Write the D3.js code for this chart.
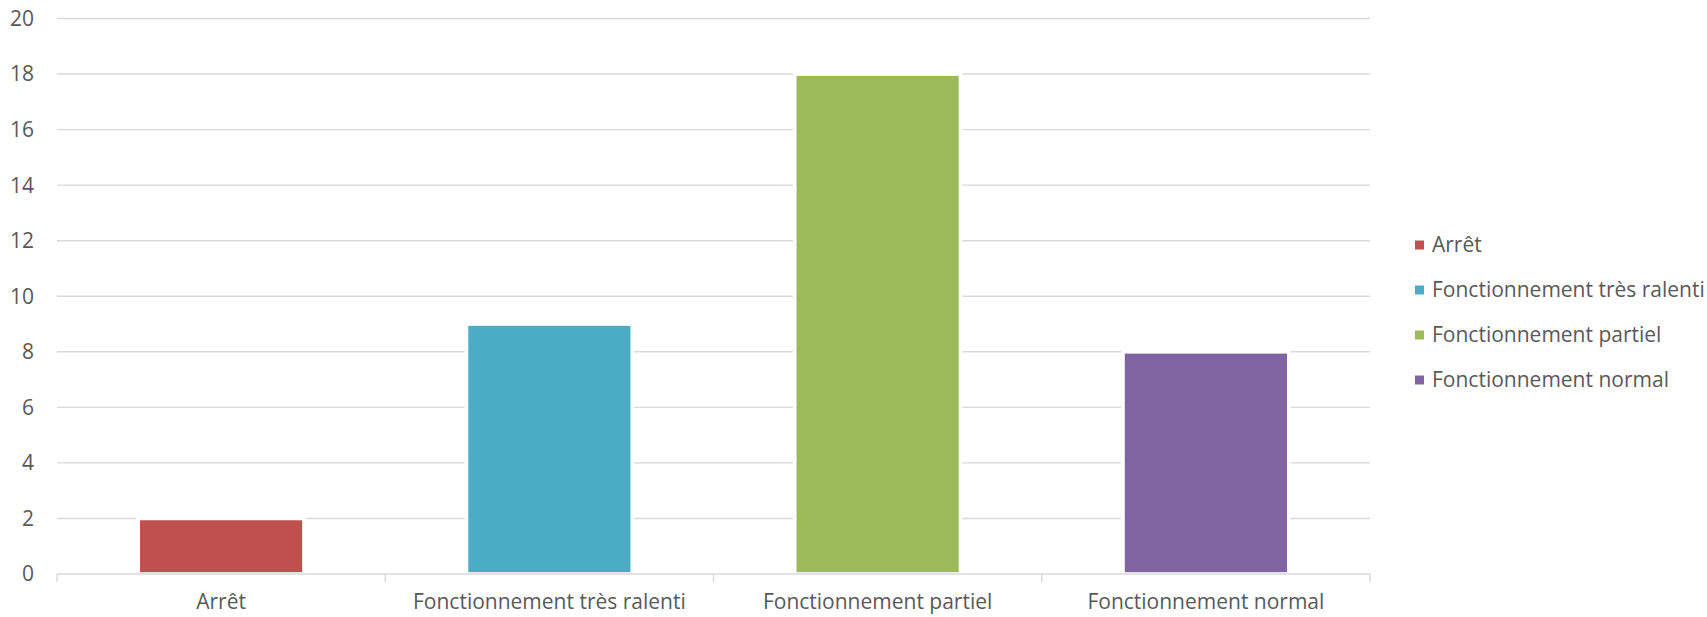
<!DOCTYPE html>
<html>
<head>
<meta charset="utf-8">
<script src="https://cdn.jsdelivr.net/npm/d3@7"></script>
<style>
  body { margin: 0; background: #fff; }
  text { font-family: "Open Sans", sans-serif; fill: #595959; }
</style>
</head>
<body>
<script>
// data
var categories = ['Arrêt', 'Fonctionnement très ralenti', 'Fonctionnement partiel', 'Fonctionnement normal'];
var values = [2, 9, 18, 8];
var colors = ['#C0504D', '#4BACC6', '#9BBB59', '#8064A2'];
var yTicks = [0, 2, 4, 6, 8, 10, 12, 14, 16, 18, 20];

var svg = d3.select('body').append('svg')
    .attr('width', 1707)
    .attr('height', 617);

var x = d3.scaleBand()
    .domain(categories)
    .range([57, 1370])
    .paddingInner(0.495)
    .paddingOuter(0.2475);

var y = d3.scaleLinear()
    .domain([0, 20])
    .range([574, 18.5]);

// gridlines
svg.append('g').selectAll('line')
    .data(yTicks.filter(function(d){ return d > 0; }))
    .enter().append('line')
    .attr('x1', 57)
    .attr('x2', 1370)
    .attr('y1', function(d){ return y(d); })
    .attr('y2', function(d){ return y(d); })
    .attr('stroke', '#d9d9d9')
    .attr('stroke-width', 1.4);

// bars
svg.append('g').selectAll('rect')
    .data(values)
    .enter().append('rect')
    .attr('x', function(d, i){ return x(categories[i]); })
    .attr('y', function(d){ return y(d); })
    .attr('width', x.bandwidth())
    .attr('height', function(d){ return y(0) - y(d); })
    .attr('fill', function(d, i){ return colors[i]; })
    .attr('stroke', '#fff')
    .attr('stroke-width', 3.6);

// x axis line + ticks
svg.append('line')
    .attr('x1', 57).attr('x2', 1370)
    .attr('y1', y(0)).attr('y2', y(0))
    .attr('stroke', '#d9d9d9')
    .attr('stroke-width', 1.4);

var bounds = d3.range(categories.length + 1).map(function(i){ return 57 + i * (1313 / categories.length); });
svg.append('g').selectAll('line')
    .data(bounds)
    .enter().append('line')
    .attr('x1', function(d){ return d; })
    .attr('x2', function(d){ return d; })
    .attr('y1', y(0))
    .attr('y2', y(0) + 8)
    .attr('stroke', '#d9d9d9')
    .attr('stroke-width', 1.4);

// x labels
svg.append('g').selectAll('text')
    .data(categories)
    .enter().append('text')
    .attr('x', function(d){ return x(d) + x.bandwidth() / 2; })
    .attr('y', 609)
    .attr('text-anchor', 'middle')
    .style('font-size', '21px')
    .text(function(d){ return d; });

// y labels
svg.append('g').selectAll('text')
    .data(yTicks)
    .enter().append('text')
    .attr('x', 34)
    .attr('y', function(d){ return y(d); })
    .attr('dy', '0.35em')
    .attr('text-anchor', 'end')
    .style('font-size', '21px')
    .text(function(d){ return d; });

// legend
var legend = svg.append('g').selectAll('g')
    .data(categories)
    .enter().append('g')
    .attr('transform', function(d, i){ return 'translate(1415,' + (245 + i * 45) + ')'; });

legend.append('rect')
    .attr('x', 0)
    .attr('y', -4.5)
    .attr('width', 9)
    .attr('height', 9)
    .attr('fill', function(d, i){ return colors[i]; });

legend.append('text')
    .attr('x', 17)
    .attr('y', 0)
    .attr('dy', '0.35em')
    .style('font-size', '21px')
    .text(function(d){ return d; });
</script>
</body>
</html>
